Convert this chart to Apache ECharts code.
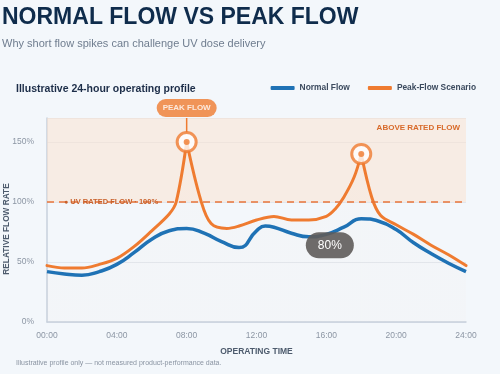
<!DOCTYPE html>
<html>
<head>
<meta charset="utf-8">
<script src="https://cdn.jsdelivr.net/npm/echarts@6/dist/echarts.min.js"></script>
<style>
  html, body { margin: 0; padding: 0; background: #f3f7fb; }
  #chart { width: 500px; height: 374px; }
</style>
</head>
<body>
<div id="chart"></div>
<script>
(function (window, document) {
    'use strict';
    var chartDom = document.getElementById('chart');
    var myChart = echarts.init(chartDom);

    var xTicks = ['00:00', '04:00', '08:00', '12:00', '16:00', '20:00', '24:00'];
    var normalHours = [0, 1, 2, 3, 4, 5, 6, 7, 8, 9, 10, 11, 12, 12.5, 13, 14, 15, 16, 17, 18, 19, 20, 21, 22, 23, 24];
    var normalFlow = [42, 40, 39, 42, 48, 58, 69, 76, 78, 74, 67, 62, 76, 80, 79, 74, 71, 73, 79, 86, 84, 77, 66, 57, 49, 42];
    // peak-flow scenario, split at the two spikes so the tips stay sharp
    var peakHours = [0, 1, 2, 3, 4, 5, 6, 7, 7.4, 8, 8.8, 9.4, 10.3, 11, 12, 13, 14, 15, 16, 16.5, 17, 17.6, 18, 18.6, 19.1, 20, 21, 22, 23, 24];
    var peakFlow = [47, 45, 45, 48, 53, 63, 76, 90, 100, 150, 102, 82, 78, 80, 85, 88, 85, 85, 88, 94, 104, 121, 140, 104, 89, 81, 73, 64, 56, 47];
    var peakMarkers = [[8, 150], [18, 140]];
    var ratedFlow = 100;

    var BLUE = '#1f72b5';
    var ORANGE = '#ef7b30';
    var FONT = '"Liberation Sans", Arial, sans-serif';

    function pairs(xs, ys) {
        return xs.map(function (x, i) { return [x, ys[i]]; });
    }
    var peakData = pairs(peakHours, peakFlow);
    var cut1 = peakHours.indexOf(peakMarkers[0][0]);
    var cut2 = peakHours.indexOf(peakMarkers[1][0]);
    var segments = [peakData.slice(0, cut1 + 1), peakData.slice(cut1, cut2 + 1), peakData.slice(cut2)];

    function peakSeries(data, i) {
        var s = {
            name: 'Peak-Flow Scenario',
            type: 'line',
            data: data,
            smooth: 0.35,
            showSymbol: false,
            lineStyle: { color: ORANGE, width: 3, cap: 'round', join: 'round' },
            itemStyle: { color: ORANGE },
            areaStyle: {
                origin: 'start',
                color: new echarts.graphic.LinearGradient(0, 0, 0, 1, [
                    { offset: 0, color: 'rgba(240,125,50,0.34)' },
                    { offset: 0.45, color: 'rgba(240,125,50,0.11)' },
                    { offset: 1, color: 'rgba(240,125,50,0.02)' }
                ], true)
            },
            z: 3
        };
        if (i === 0) {
            s.markArea = {
                silent: true,
                itemStyle: { color: 'rgba(252,226,205,0.5)' },
                label: {
                    show: true,
                    position: 'insideTopRight',
                    distance: 6,
                    formatter: 'ABOVE RATED FLOW',
                    color: '#d86a2a',
                    fontSize: 8,
                    fontWeight: 'bold',
                    fontFamily: FONT
                },
                data: [[{ yAxis: ratedFlow }, { yAxis: 170 }]]
            };
            s.markLine = {
                silent: true,
                symbol: 'none',
                lineStyle: { color: '#e8743a', type: [7, 5], width: 1.5 },
                data: [{
                    yAxis: ratedFlow,
                    label: {
                        show: true,
                        position: 'insideStart',
                        distance: 17,
                        formatter: '{d|\u25CF} UV RATED FLOW \u00B7 100%',
                        color: '#c9602a',
                        fontSize: 7.5,
                        fontWeight: 'bold',
                        fontFamily: FONT,
                        rich: { d: { fontSize: 7, color: '#c9602a' } }
                    }
                }]
            };
        }
        return s;
    }

    var option = {
        backgroundColor: '#f3f7fb',
        textStyle: { fontFamily: FONT },
        title: [{
            text: 'NORMAL FLOW VS PEAK FLOW',
            left: 2, top: 6, padding: 0,
            textStyle: { fontSize: 23, fontWeight: 'bold', color: '#0f2c4c', fontFamily: FONT }
        }, {
            text: 'Why short flow spikes can challenge UV dose delivery',
            left: 2, top: 38, padding: 0,
            textStyle: { fontSize: 11, fontWeight: 'normal', color: '#6f7d8f', fontFamily: FONT }
        }, {
            text: 'Illustrative 24-hour operating profile',
            left: 16, top: 84, padding: 0,
            textStyle: { fontSize: 10.5, fontWeight: 'bold', color: '#1c2d48', fontFamily: FONT }
        }, {
            text: 'Illustrative profile only \u2014 not measured product-performance data.',
            left: 16, top: 360, padding: 0,
            textStyle: { fontSize: 7, fontWeight: 'normal', color: '#8a94a2', fontFamily: FONT }
        }],
        legend: {
            right: 24, top: 84, padding: 0,
            icon: 'roundRect',
            itemWidth: 24, itemHeight: 4,
            itemGap: 18,
            data: ['Normal Flow', 'Peak-Flow Scenario'],
            textStyle: { fontSize: 8.4, color: '#3b4a5e', fontWeight: 'bold', fontFamily: FONT }
        },
        grid: { left: 47, right: 34, top: 118, bottom: 52, containLabel: false, outerBoundsMode: 'none' },
        xAxis: {
            type: 'value',
            min: 0, max: 24, interval: 4,
            name: 'OPERATING TIME',
            nameLocation: 'middle',
            nameGap: 25,
            nameMoveOverlap: false,
            nameTextStyle: { fontSize: 8.5, fontWeight: 'bold', color: '#4d5b6d', fontFamily: FONT },
            axisLine: { lineStyle: { color: '#c7d1dd', width: 1.5 } },
            axisTick: { show: false },
            splitLine: { show: false },
            axisLabel: {
                fontSize: 8.5, color: '#8c96a4', margin: 9,
                formatter: function (v) { return xTicks[v / 4]; }
            }
        },
        yAxis: {
            type: 'value',
            min: 0, max: 170, interval: 50,
            name: 'RELATIVE FLOW RATE',
            nameLocation: 'middle',
            nameGap: 36,
            nameMoveOverlap: false,
            nameTextStyle: { fontSize: 8.3, fontWeight: 'bold', color: '#4d5b6d', fontFamily: FONT, padding: [0, 18, 0, 0] },
            axisLine: { show: true, lineStyle: { color: '#c7d1dd', width: 1.5 } },
            axisTick: { show: false },
            splitLine: { lineStyle: { color: '#e2e7ed', width: 1 } },
            axisLabel: {
                fontSize: 8.5, color: '#8c96a4', margin: 13,
                showMaxLabel: false,
                formatter: '{value}%'
            }
        },
        series: segments.map(peakSeries).concat([{
            name: 'Normal Flow',
            type: 'line',
            data: pairs(normalHours, normalFlow),
            smooth: 0.5,
            showSymbol: false,
            lineStyle: { color: BLUE, width: 3.5 },
            itemStyle: { color: BLUE },
            markPoint: {
                silent: true,
                symbolSize: 0,
                label: {
                    show: true,
                    formatter: '80%',
                    color: '#ffffff',
                    fontSize: 12,
                    backgroundColor: 'rgba(95,92,90,0.9)',
                    borderRadius: 13,
                    padding: [7, 12]
                },
                data: [{ coord: [16.2, 64] }]
            },
            z: 4
        }, {
            name: 'connector',
            type: 'line',
            data: [[peakMarkers[0][0], 158], [peakMarkers[0][0], 170]],
            showSymbol: false,
            silent: true,
            lineStyle: { color: ORANGE, width: 1.5 },
            z: 5
        }, {
            name: 'peak ring',
            type: 'scatter',
            data: peakMarkers.map(function (p, i) {
                return {
                    value: p,
                    label: {
                        show: i === 0,
                        position: 'top',
                        distance: 14,
                        formatter: 'PEAK FLOW',
                        color: '#ffffff',
                        fontSize: 8,
                        fontWeight: 'bold',
                        fontFamily: FONT,
                        backgroundColor: ORANGE,
                        borderRadius: 9,
                        padding: [5, 6]
                    }
                };
            }),
            symbol: 'circle',
            symbolSize: 19,
            itemStyle: { color: '#ffffff', borderColor: ORANGE, borderWidth: 3 },
            z: 6
        }, {
            name: 'peak dot',
            type: 'scatter',
            data: peakMarkers,
            symbol: 'circle',
            symbolSize: 6,
            itemStyle: { color: ORANGE },
            z: 7
        }])
    };

    myChart.setOption(option);
})(window, document);
</script>
</body>
</html>
